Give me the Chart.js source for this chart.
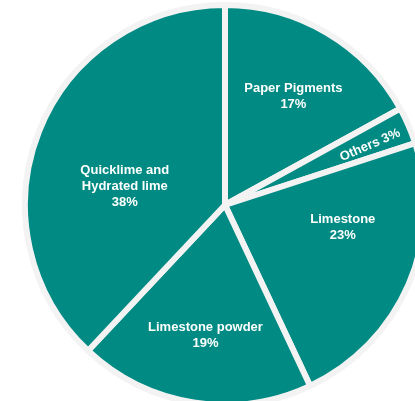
<!DOCTYPE html>
<html>
<head>
<meta charset="utf-8">
<script src="https://cdn.jsdelivr.net/npm/chart.js@4/dist/chart.umd.min.js"></script>
<style>
html,body{margin:0;padding:0;background:#ffffff;overflow:hidden;width:415px;height:401px;}
#wrap{position:absolute;left:21.5px;top:2px;width:406px;height:406px;}
</style>
</head>
<body>
<div id="wrap"><canvas id="c"></canvas></div>
<script>
const categories = ["Paper Pigments", "Others", "Limestone", "Limestone powder", "Quicklime and Hydrated lime"];
const shares = [17, 3, 23, 19, 38];
const labelLines = [
  ["Paper Pigments", "17%"],
  ["Others 3%"],
  ["Limestone", "23%"],
  ["Limestone powder", "19%"],
  ["Quicklime and", "Hydrated lime", "38%"]
];

// label placement relative to each slice: angle offset (deg) from slice middle, radius fraction, rotate?
const labelPlacement = [
  {dA: 1.7, r: 0.64, rot: false},
  {dA: 1.0, r: 0.785, rot: true},
  {dA: -12.4, r: 0.60, rot: false},
  {dA: -0.5, r: 0.66, rot: false},
  {dA: -10.9, r: 0.51, rot: false}
];

const labelPlugin = {
  id: 'sliceLabels',
  afterDatasetsDraw(chart) {
    const ctx = chart.ctx;
    const meta = chart.getDatasetMeta(0);
    ctx.save();
    ctx.fillStyle = '#ffffff';
    ctx.font = 'bold 13px "Liberation Sans", Arial, sans-serif';
    ctx.textAlign = 'center';
    ctx.textBaseline = 'middle';
    meta.data.forEach((arc, i) => {
      const p = labelPlacement[i];
      const mid = (arc.startAngle + arc.endAngle) / 2;
      const a = mid + p.dA * Math.PI / 180;
      const r = arc.outerRadius * p.r;
      const x = arc.x + Math.cos(a) * r;
      const y = arc.y + Math.sin(a) * r;
      const lines = labelLines[i];
      const lh = 16;
      ctx.save();
      ctx.translate(x, y);
      if (p.rot) ctx.rotate(mid);
      lines.forEach((t, k) => {
        ctx.fillText(t, 0, (k - (lines.length - 1) / 2) * lh);
      });
      ctx.restore();
    });
    ctx.restore();
  }
};

new Chart(document.getElementById('c'), {
  type: 'pie',
  data: {
    labels: categories,
    datasets: [{
      data: shares,
      backgroundColor: '#008a84',
      borderColor: '#f3f3f3',
      borderWidth: 6,
      borderAlign: 'center',
      hoverOffset: 0,
      offset: 0
    }]
  },
  options: {
    responsive: true,
    maintainAspectRatio: false,
    animation: false,
    events: [],
    layout: {padding: 0},
    plugins: {
      legend: {display: false},
      tooltip: {enabled: false}
    }
  },
  plugins: [labelPlugin]
});
</script>
</body>
</html>
